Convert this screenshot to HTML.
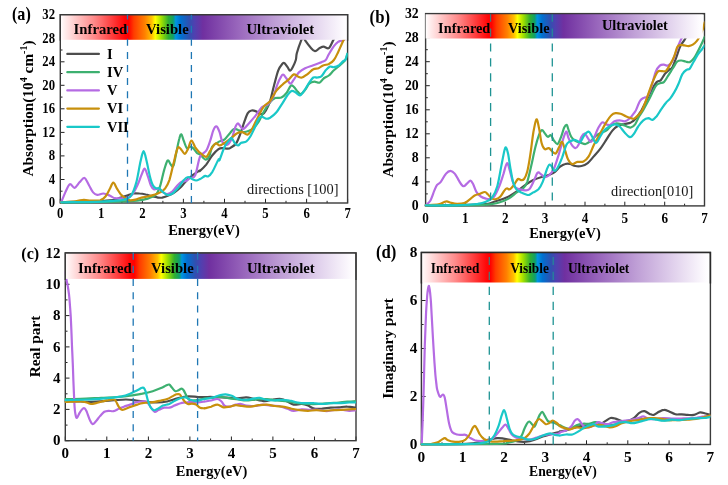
<!DOCTYPE html>
<html><head><meta charset="utf-8"><title>Optical properties</title>
<style>
html,body{margin:0;padding:0;background:#fff}
svg{display:block}
text{font-family:"Liberation Serif","DejaVu Serif",serif;fill:#000}
.b{font-weight:bold}
.tk{font-weight:bold;font-size:15.3px}
.ax{font-weight:bold;font-size:14.5px}
.lb{font-weight:bold;font-size:15.5px}
.sp{font-weight:bold;font-size:14.7px}
.lg{font-weight:bold;font-size:14.5px}
.an{font-size:14.4px;fill:#161616}
.cv{fill:none;stroke-width:2.2;stroke-linejoin:round;stroke-linecap:round}
.fr{fill:none;stroke:#3a3a3a;stroke-width:1.4}
.t{stroke:#222;stroke-width:1}
</style></head><body>
<svg width="728" height="485" viewBox="0 0 728 485">
<rect width="728" height="485" fill="#fff"/>
<defs>
<linearGradient id="ga" x1="0" y1="0" x2="1" y2="0">
<stop offset="0.00%" stop-color="#ffffff"/>
<stop offset="1.17%" stop-color="#fff2f2"/>
<stop offset="11.70%" stop-color="#ff8a8a"/>
<stop offset="22.35%" stop-color="#ff0808"/>
<stop offset="23.74%" stop-color="#ff0000"/>
<stop offset="25.61%" stop-color="#ff3c00"/>
<stop offset="29.40%" stop-color="#ff8000"/>
<stop offset="31.84%" stop-color="#ffc000"/>
<stop offset="33.07%" stop-color="#ffff00"/>
<stop offset="35.18%" stop-color="#a0e000"/>
<stop offset="37.62%" stop-color="#30b030"/>
<stop offset="39.29%" stop-color="#10a068"/>
<stop offset="40.18%" stop-color="#0094e0"/>
<stop offset="41.96%" stop-color="#0070d0"/>
<stop offset="44.85%" stop-color="#3050b0"/>
<stop offset="46.74%" stop-color="#5040b0"/>
<stop offset="49.64%" stop-color="#7030a0"/>
<stop offset="62.23%" stop-color="#9a68bd"/>
<stop offset="74.82%" stop-color="#bf9fd6"/>
<stop offset="87.41%" stop-color="#e0d0ec"/>
<stop offset="98.61%" stop-color="#fdfbfe"/>
<stop offset="100.00%" stop-color="#ffffff"/>
</linearGradient>
<clipPath id="ka"><rect x="60.3" y="14.7" width="287.3" height="25.1"/></clipPath>
<clipPath id="ca"><rect x="59.3" y="14.7" width="288.3" height="189.5"/></clipPath>
<linearGradient id="gb" x1="0" y1="0" x2="1" y2="0">
<stop offset="0.00%" stop-color="#ffffff"/>
<stop offset="1.17%" stop-color="#fff2f2"/>
<stop offset="11.72%" stop-color="#ff8a8a"/>
<stop offset="22.37%" stop-color="#ff0808"/>
<stop offset="23.81%" stop-color="#ff0000"/>
<stop offset="25.67%" stop-color="#ff3c00"/>
<stop offset="29.46%" stop-color="#ff8000"/>
<stop offset="31.91%" stop-color="#ffc000"/>
<stop offset="33.13%" stop-color="#ffff00"/>
<stop offset="35.25%" stop-color="#a0e000"/>
<stop offset="37.69%" stop-color="#30b030"/>
<stop offset="39.36%" stop-color="#10a068"/>
<stop offset="40.25%" stop-color="#0094e0"/>
<stop offset="42.03%" stop-color="#0070d0"/>
<stop offset="44.93%" stop-color="#3050b0"/>
<stop offset="46.82%" stop-color="#5040b0"/>
<stop offset="49.71%" stop-color="#7030a0"/>
<stop offset="62.29%" stop-color="#9a68bd"/>
<stop offset="74.86%" stop-color="#bf9fd6"/>
<stop offset="87.43%" stop-color="#e0d0ec"/>
<stop offset="98.56%" stop-color="#fdfbfe"/>
<stop offset="100.00%" stop-color="#ffffff"/>
</linearGradient>
<clipPath id="kb"><rect x="425.6" y="13.7" width="277.2" height="24.8"/></clipPath>
<clipPath id="cb"><rect x="424.6" y="13.6" width="279.9" height="193.5"/></clipPath>
<linearGradient id="gc" x1="0" y1="0" x2="1" y2="0">
<stop offset="0.00%" stop-color="#ffffff"/>
<stop offset="1.17%" stop-color="#fff2f2"/>
<stop offset="11.73%" stop-color="#ff8a8a"/>
<stop offset="22.42%" stop-color="#ff0808"/>
<stop offset="23.80%" stop-color="#ff0000"/>
<stop offset="25.68%" stop-color="#ff3c00"/>
<stop offset="29.46%" stop-color="#ff8000"/>
<stop offset="31.91%" stop-color="#ffc000"/>
<stop offset="33.13%" stop-color="#ffff00"/>
<stop offset="35.24%" stop-color="#a0e000"/>
<stop offset="37.69%" stop-color="#30b030"/>
<stop offset="39.36%" stop-color="#10a068"/>
<stop offset="40.25%" stop-color="#0094e0"/>
<stop offset="42.03%" stop-color="#0070d0"/>
<stop offset="44.92%" stop-color="#3050b0"/>
<stop offset="46.81%" stop-color="#5040b0"/>
<stop offset="49.70%" stop-color="#7030a0"/>
<stop offset="62.28%" stop-color="#9a68bd"/>
<stop offset="74.85%" stop-color="#bf9fd6"/>
<stop offset="87.43%" stop-color="#e0d0ec"/>
<stop offset="98.62%" stop-color="#fdfbfe"/>
<stop offset="100.00%" stop-color="#ffffff"/>
</linearGradient>
<clipPath id="kc"><rect x="65.3" y="253.0" width="289.5" height="25.9"/></clipPath>
<clipPath id="cc"><rect x="64.3" y="253.0" width="291.7" height="188.9"/></clipPath>
<linearGradient id="gd" x1="0" y1="0" x2="1" y2="0">
<stop offset="0.00%" stop-color="#ffffff"/>
<stop offset="1.18%" stop-color="#fff2f2"/>
<stop offset="11.80%" stop-color="#ff8a8a"/>
<stop offset="22.57%" stop-color="#ff0808"/>
<stop offset="23.96%" stop-color="#ff0000"/>
<stop offset="25.83%" stop-color="#ff3c00"/>
<stop offset="29.61%" stop-color="#ff8000"/>
<stop offset="32.05%" stop-color="#ffc000"/>
<stop offset="33.27%" stop-color="#ffff00"/>
<stop offset="35.38%" stop-color="#a0e000"/>
<stop offset="37.83%" stop-color="#30b030"/>
<stop offset="39.50%" stop-color="#10a068"/>
<stop offset="40.38%" stop-color="#0094e0"/>
<stop offset="42.16%" stop-color="#0070d0"/>
<stop offset="45.05%" stop-color="#3050b0"/>
<stop offset="46.94%" stop-color="#5040b0"/>
<stop offset="49.83%" stop-color="#7030a0"/>
<stop offset="62.37%" stop-color="#9a68bd"/>
<stop offset="74.91%" stop-color="#bf9fd6"/>
<stop offset="87.46%" stop-color="#e0d0ec"/>
<stop offset="98.61%" stop-color="#fdfbfe"/>
<stop offset="100.00%" stop-color="#ffffff"/>
</linearGradient>
<clipPath id="kd"><rect x="421.4" y="252.5" width="287.6" height="30.0"/></clipPath>
<clipPath id="cd"><rect x="420.4" y="252.5" width="290.0" height="193.2"/></clipPath>
</defs>
<g id="plot-a">
<path class="t" d="M60.3 203.0v-4.2M80.8 203.0v-2.2M101.3 203.0v-4.2M121.9 203.0v-2.2M142.4 203.0v-4.2M162.9 203.0v-2.2M183.4 203.0v-4.2M203.9 203.0v-2.2M224.5 203.0v-4.2M245.0 203.0v-2.2M265.5 203.0v-4.2M286.0 203.0v-2.2M306.6 203.0v-4.2M327.1 203.0v-2.2M347.6 203.0v-4.2M60.3 203.0h4.2M60.3 191.2h2.2M60.3 179.5h4.2M60.3 167.7h2.2M60.3 155.9h4.2M60.3 144.2h2.2M60.3 132.4h4.2M60.3 120.6h2.2M60.3 108.8h4.2M60.3 97.1h2.2M60.3 85.3h4.2M60.3 73.5h2.2M60.3 61.8h4.2M60.3 50.0h2.2M60.3 38.2h4.2M60.3 26.5h2.2M60.3 14.7h4.2" fill="none"/>
<rect class="fr" x="60.3" y="14.7" width="287.3" height="188.3"/>
<g clip-path="url(#ca)">
<path class="cv" stroke="#4d4d4d" d="M61.2 202.3C68.7 202.0 96.6 201.5 106.5 200.7C116.5 199.9 117.5 198.4 120.9 197.6C124.4 196.7 125.1 196.2 127.1 195.5C129.2 194.8 131.2 193.8 133.3 193.5C135.4 193.1 137.4 193.3 139.5 193.5C141.5 193.6 143.6 194.0 145.7 194.5C147.7 194.9 149.8 195.6 151.8 196.1C153.9 196.6 156.3 197.3 158.0 197.6C159.7 197.8 160.4 197.9 162.2 197.6C163.9 197.2 166.3 196.4 168.3 195.5C170.4 194.7 172.5 193.8 174.5 192.4C176.6 191.0 178.6 189.3 180.7 187.3C182.8 185.2 184.8 182.1 186.9 180.1C188.9 178.0 191.0 176.5 193.1 174.9C195.1 173.4 198.1 171.5 199.2 170.8C200.4 170.1 198.8 171.8 200.0 170.8C201.2 169.8 204.1 167.2 206.2 164.6C208.2 162.0 210.3 157.9 212.4 155.3C214.4 152.8 216.8 150.4 218.5 149.2C220.3 147.9 221.1 148.2 222.7 148.1C224.2 148.1 226.4 148.8 227.8 148.7C229.2 148.6 229.5 148.5 230.9 147.6C232.3 146.7 234.5 145.7 236.1 143.5C237.6 141.2 238.8 137.8 240.2 134.2C241.6 130.6 243.0 125.3 244.3 121.8C245.6 118.3 246.6 115.1 247.8 113.2C249.0 111.3 250.2 110.8 251.5 110.5C252.8 110.1 254.3 110.6 255.6 111.1C257.0 111.6 258.6 113.1 259.8 113.6C261.0 114.1 261.8 114.5 262.8 114.0C263.9 113.5 264.7 112.6 265.9 110.5C267.1 108.4 268.7 105.5 270.1 101.2C271.4 96.9 272.8 89.9 274.2 84.7C275.6 79.6 276.9 73.8 278.3 70.3C279.7 66.8 281.4 64.9 282.4 63.7C283.5 62.5 283.6 62.5 284.5 63.1C285.3 63.7 286.6 65.9 287.6 67.2C288.5 68.5 289.2 70.7 290.0 70.7C290.9 70.7 291.8 69.0 292.7 67.2C293.7 65.4 295.1 62.3 295.8 60.0C296.5 57.7 296.0 56.5 296.8 53.3C297.7 50.1 299.9 43.7 301.0 40.9C302.0 38.2 302.3 36.8 303.0 36.8C303.8 36.8 304.3 39.2 305.5 40.9C306.7 42.6 308.7 45.4 310.2 47.1C311.8 48.8 313.4 51.0 315.0 51.2C316.5 51.4 318.1 48.9 319.5 48.1C321.0 47.4 322.1 46.7 323.6 46.7C325.2 46.7 327.2 49.1 328.8 48.1C330.3 47.2 331.7 43.1 332.9 40.9C334.1 38.7 334.8 36.8 336.0 34.7C337.2 32.7 338.2 30.6 340.1 28.5C342.0 26.5 346.1 23.4 347.3 22.4"/>
<path class="cv" stroke="#3db070" d="M61.2 202.3C70.5 202.2 104.1 202.0 116.8 201.7C129.5 201.4 132.3 201.2 137.4 200.7C142.6 200.2 144.6 199.6 147.7 198.6C150.8 197.6 153.9 196.5 156.0 194.5C158.0 192.4 158.7 190.4 160.1 186.2C161.5 182.1 162.9 174.0 164.2 169.8C165.5 165.5 166.6 161.3 167.7 160.5C168.8 159.6 169.8 163.7 170.8 164.6C171.8 165.5 172.5 167.9 173.5 165.6C174.4 163.4 175.6 155.7 176.6 151.2C177.5 146.7 178.5 141.7 179.3 138.8C180.0 136.0 180.6 134.0 181.3 134.3C182.1 134.7 182.9 138.6 183.8 140.9C184.7 143.2 185.8 147.2 186.9 148.1C187.9 149.1 188.9 146.7 190.0 146.7C191.0 146.7 191.9 147.0 193.1 148.1C194.3 149.2 196.0 152.2 197.2 153.3C198.3 154.3 198.7 153.3 200.0 154.3C201.3 155.3 203.6 159.1 205.2 159.5C206.7 159.8 208.1 158.5 209.3 156.4C210.5 154.2 210.6 149.0 212.4 146.5C214.1 144.0 217.5 142.6 219.6 141.4C221.6 140.2 223.0 140.7 224.7 139.3C226.4 138.0 228.3 134.9 229.9 133.2C231.4 131.4 232.6 129.5 234.0 129.0C235.4 128.5 236.6 129.5 238.1 130.1C239.7 130.6 241.6 131.9 243.3 132.1C245.0 132.3 246.7 131.8 248.4 131.1C250.1 130.4 251.9 129.5 253.6 128.0C255.3 126.5 257.0 124.6 258.7 121.8C260.4 119.1 262.0 114.8 263.9 111.5C265.8 108.3 268.2 104.5 270.1 102.2C271.9 100.0 273.3 98.9 275.2 98.1C277.1 97.3 279.5 98.4 281.4 97.5C283.3 96.6 285.0 94.9 286.5 93.0C288.1 91.0 289.5 86.8 290.7 85.8C291.9 84.7 292.6 85.8 293.8 86.8C295.0 87.8 296.7 90.7 297.9 91.9C299.1 93.1 299.8 94.3 301.0 94.0C302.2 93.7 303.7 91.6 305.1 89.9C306.5 88.2 307.7 85.1 309.2 83.7C310.8 82.3 312.6 81.8 314.4 81.6C316.1 81.5 318.0 83.2 319.5 82.7C321.1 82.2 322.1 79.7 323.6 78.5C325.2 77.3 327.1 76.8 328.8 75.5C330.5 74.1 332.0 72.0 333.9 70.3C335.8 68.6 338.2 66.9 340.1 65.2C342.0 63.4 344.1 61.8 345.3 60.0C346.5 58.2 347.0 55.3 347.3 54.3"/>
<path class="cv" stroke="#b56be3" d="M61.2 202.3C61.9 200.7 63.9 195.4 65.3 192.4C66.7 189.4 68.3 184.9 69.8 184.2C71.4 183.4 72.9 188.2 74.6 187.9C76.2 187.5 78.1 183.8 79.7 182.1C81.4 180.5 82.9 177.5 84.5 178.0C86.0 178.5 87.6 182.8 89.0 185.2C90.4 187.6 91.7 190.8 93.1 192.4C94.5 194.0 95.5 194.7 97.2 194.9C99.0 195.1 101.4 193.4 103.4 193.5C105.5 193.6 107.7 194.7 109.6 195.5C111.5 196.3 112.5 197.7 114.8 198.2C117.0 198.6 120.8 198.3 123.0 198.2C125.2 198.1 126.6 198.2 128.2 197.6C129.7 197.0 130.7 196.5 132.3 194.5C133.8 192.4 135.9 188.5 137.4 185.2C139.0 181.9 140.3 177.7 141.5 174.9C142.7 172.2 143.6 168.6 144.6 168.7C145.7 168.9 146.7 173.2 147.7 175.9C148.8 178.7 149.8 183.0 150.8 185.2C151.8 187.4 152.5 188.7 153.9 189.3C155.3 189.9 157.5 188.2 159.1 188.7C160.6 189.2 161.8 191.5 163.2 192.4C164.6 193.3 165.8 194.2 167.3 194.1C168.8 193.9 170.7 192.9 172.5 191.4C174.2 189.9 176.1 186.8 177.6 185.2C179.2 183.6 180.4 182.4 181.7 181.7C183.1 181.0 184.5 181.7 185.8 181.1C187.2 180.5 188.4 178.9 190.0 178.0C191.5 177.1 193.4 179.1 195.1 175.5C196.8 172.0 198.2 161.0 200.0 156.8C201.8 152.7 204.5 153.4 206.2 150.7C207.9 147.9 209.1 143.8 210.3 140.4C211.5 136.9 212.4 132.4 213.4 130.1C214.4 127.7 215.5 126.0 216.5 126.4C217.5 126.7 218.5 129.4 219.6 132.1C220.6 134.8 221.3 140.4 222.7 142.4C224.0 144.5 226.3 145.2 227.8 144.5C229.4 143.8 230.7 141.0 231.9 138.3C233.1 135.6 234.1 130.5 235.0 128.0C236.0 125.5 236.9 123.8 237.7 123.5C238.6 123.1 239.3 125.0 240.2 125.9C241.1 126.9 241.9 129.4 243.3 129.0C244.6 128.7 246.4 126.1 248.4 123.9C250.5 121.6 253.4 118.4 255.6 115.6C257.9 112.9 259.8 109.3 261.8 107.4C263.9 105.5 266.1 106.0 268.0 104.3C269.9 102.6 271.6 100.4 273.2 97.1C274.7 93.8 275.9 88.2 277.3 84.7C278.6 81.2 280.4 77.7 281.4 76.1C282.4 74.4 282.6 74.4 283.5 74.8C284.3 75.2 285.4 77.1 286.5 78.5C287.7 80.0 289.1 83.5 290.3 83.7C291.5 83.9 292.3 81.5 293.8 79.6C295.2 77.7 297.0 74.3 298.9 72.4C300.8 70.5 302.7 69.4 305.1 68.2C307.5 67.0 310.6 66.2 313.3 65.2C316.1 64.1 319.5 62.9 321.6 62.1C323.6 61.2 324.5 61.3 325.7 60.0C326.9 58.7 327.4 56.6 328.8 54.3C330.2 52.0 332.4 48.1 333.9 46.1C335.5 44.0 336.7 42.9 338.1 41.9C339.4 41.0 341.0 41.0 342.2 40.5C343.4 40.0 344.4 40.5 345.3 38.8C346.1 37.2 347.0 32.0 347.3 30.6"/>
<path class="cv" stroke="#c8900c" d="M61.2 202.3C63.6 202.1 71.8 201.7 75.6 201.3C79.4 200.9 81.3 199.9 83.8 199.8C86.4 199.7 88.3 200.6 91.1 200.7C93.8 200.7 97.9 200.9 100.3 200.3C102.7 199.6 103.9 198.4 105.5 196.5C107.0 194.7 108.3 191.6 109.6 189.3C110.9 187.0 112.1 182.9 113.3 182.7C114.5 182.6 115.5 186.3 116.8 188.3C118.1 190.3 119.4 192.8 120.9 194.5C122.5 196.2 124.5 197.6 126.1 198.6C127.6 199.6 128.7 200.1 130.2 200.3C131.8 200.4 133.5 200.1 135.4 199.6C137.3 199.2 139.5 198.1 141.5 197.6C143.6 197.1 145.7 197.0 147.7 196.5C149.8 196.1 151.8 195.6 153.9 194.9C156.0 194.2 158.2 193.5 160.1 192.4C162.0 191.3 163.7 190.4 165.2 188.3C166.8 186.2 168.0 184.2 169.4 180.1C170.7 175.9 172.3 168.4 173.5 163.6C174.7 158.8 175.7 154.0 176.6 151.2C177.4 148.5 177.8 147.3 178.6 147.1C179.5 146.9 180.7 149.0 181.7 150.2C182.8 151.3 183.8 154.1 184.8 153.9C185.8 153.7 186.8 151.4 187.9 149.2C189.0 146.9 190.2 140.8 191.4 140.5C192.6 140.2 193.8 145.1 195.1 147.1C196.4 149.0 198.4 151.3 199.2 152.2C200.1 153.2 198.8 152.0 200.0 152.7C201.2 153.5 204.5 157.2 206.2 156.8C207.9 156.5 208.8 152.9 210.3 150.7C211.8 148.4 213.9 144.3 215.5 143.5C217.0 142.6 218.2 145.5 219.6 145.5C220.9 145.5 221.8 144.7 223.7 143.5C225.6 142.3 228.7 140.0 230.9 138.3C233.1 136.6 235.2 134.2 237.1 133.2C239.0 132.1 240.5 131.9 242.2 132.1C244.0 132.4 245.8 134.9 247.4 134.6C248.9 134.2 249.8 132.9 251.5 130.1C253.2 127.2 255.6 121.6 257.7 117.7C259.8 113.7 261.8 109.1 263.9 106.4C265.9 103.6 268.0 103.8 270.1 101.2C272.1 98.6 274.2 93.7 276.2 90.9C278.3 88.2 280.4 86.6 282.4 84.7C284.5 82.8 286.7 81.3 288.6 79.6C290.5 77.9 292.2 74.9 293.8 74.4C295.3 73.9 296.5 76.0 297.9 76.5C299.3 77.0 300.5 77.9 302.0 77.5C303.5 77.2 305.3 75.8 307.2 74.4C309.0 73.1 311.4 70.3 313.3 69.3C315.2 68.2 316.8 68.9 318.5 68.2C320.2 67.6 321.9 65.8 323.6 65.2C325.4 64.5 327.1 65.0 328.8 64.1C330.5 63.3 332.4 62.0 333.9 60.0C335.5 58.0 336.7 55.1 338.1 52.2C339.4 49.4 341.0 45.5 342.2 43.0C343.4 40.4 344.4 38.5 345.3 36.8C346.1 35.1 347.0 33.4 347.3 32.7"/>
<path class="cv" stroke="#19c8c8" d="M61.2 202.3C67.0 202.2 86.9 202.2 96.2 201.9C105.5 201.6 111.8 201.1 116.8 200.7C121.8 200.2 123.7 199.9 126.1 199.0C128.5 198.2 129.5 198.3 131.2 195.5C133.0 192.7 134.8 187.8 136.4 182.1C137.9 176.5 139.3 166.7 140.5 161.5C141.7 156.4 142.6 151.2 143.6 151.2C144.6 151.2 145.7 157.4 146.7 161.5C147.7 165.6 148.8 172.0 149.8 175.9C150.8 179.9 151.8 183.2 152.9 185.2C153.9 187.3 154.9 187.8 156.0 188.3C157.0 188.8 158.0 187.8 159.1 188.3C160.1 188.8 160.8 190.3 162.2 191.4C163.5 192.5 165.6 194.6 167.3 194.9C169.0 195.2 170.6 194.7 172.5 193.5C174.3 192.2 176.7 189.5 178.6 187.3C180.5 185.0 182.2 181.8 183.8 180.1C185.3 178.3 186.5 177.1 187.9 177.0C189.3 176.8 190.7 178.4 192.0 179.0C193.4 179.6 194.8 180.5 196.1 180.5C197.5 180.5 198.5 179.8 200.0 179.0C201.5 178.3 203.8 176.4 205.2 175.9C206.5 175.5 207.0 177.0 208.2 176.4C209.4 175.7 210.6 174.6 212.4 171.8C214.1 169.0 217.3 161.4 218.5 159.5C219.7 157.5 218.5 162.1 219.6 159.9C220.6 157.8 223.0 150.0 224.7 146.5C226.4 143.1 228.7 140.7 229.9 139.3C231.1 138.0 231.1 137.6 231.9 138.3C232.8 139.0 234.0 142.3 235.0 143.5C236.1 144.7 237.1 145.6 238.1 145.5C239.2 145.4 239.8 143.5 241.2 142.8C242.6 142.1 244.8 142.5 246.4 141.4C247.9 140.3 249.1 138.5 250.5 136.2C251.9 134.0 253.2 130.9 254.6 128.0C256.0 125.1 257.5 120.6 258.7 118.7C259.9 116.8 260.6 116.7 261.8 116.7C263.0 116.7 264.6 118.6 265.9 118.7C267.3 118.9 268.3 118.7 270.1 117.7C271.8 116.7 274.2 114.9 276.2 112.5C278.3 110.1 280.5 106.2 282.4 103.3C284.3 100.4 286.0 97.1 287.6 95.0C289.1 93.0 290.3 91.3 291.7 90.9C293.1 90.5 294.4 91.8 295.8 92.6C297.2 93.3 298.6 95.7 299.9 95.4C301.3 95.2 302.5 93.0 304.1 90.9C305.6 88.8 307.7 84.9 309.2 82.7C310.8 80.4 312.0 78.4 313.3 77.5C314.7 76.7 316.1 77.8 317.5 77.5C318.8 77.3 320.2 77.3 321.6 76.1C322.9 74.9 324.3 71.9 325.7 70.3C327.1 68.7 328.4 67.1 329.8 66.6C331.2 66.1 332.4 67.5 333.9 67.2C335.5 67.0 337.5 66.2 339.1 65.2C340.6 64.1 342.2 61.9 343.2 61.0C344.2 60.2 344.6 61.2 345.3 60.0C346.0 58.8 347.0 54.7 347.3 53.7"/>
</g>
<rect x="60.3" y="14.7" width="287.3" height="25.1" fill="url(#ga)"/>
<path class="fr" d="M60.3 40.8V14.7H347.6V40.8"/>
<path d="M127.5 203.0V14.7M191.4 203.0V14.7" stroke="#1f77b4" stroke-width="1.3" stroke-dasharray="7 6.1" fill="none"/>
<text class="sp" transform="translate(73.6 33.8) scale(1.000 1)">Infrared</text>
<text class="sp" transform="translate(146.0 33.8) scale(1.000 1)">Visible</text>
<text class="sp" transform="translate(246.5 33.8) scale(1.000 1)">Ultraviolet</text>
<text class="tk" style="font-size:14.6px" text-anchor="middle" transform="translate(60.3 217.9) scale(0.870 1)">0</text>
<text class="tk" style="font-size:14.6px" text-anchor="middle" transform="translate(101.3 217.9) scale(0.870 1)">1</text>
<text class="tk" style="font-size:14.6px" text-anchor="middle" transform="translate(142.4 217.9) scale(0.870 1)">2</text>
<text class="tk" style="font-size:14.6px" text-anchor="middle" transform="translate(183.4 217.9) scale(0.870 1)">3</text>
<text class="tk" style="font-size:14.6px" text-anchor="middle" transform="translate(224.5 217.9) scale(0.870 1)">4</text>
<text class="tk" style="font-size:14.6px" text-anchor="middle" transform="translate(265.5 217.9) scale(0.870 1)">5</text>
<text class="tk" style="font-size:14.6px" text-anchor="middle" transform="translate(306.6 217.9) scale(0.870 1)">6</text>
<text class="tk" style="font-size:14.6px" text-anchor="middle" transform="translate(347.6 217.9) scale(0.870 1)">7</text>
<text class="tk" style="font-size:14.6px" text-anchor="end" transform="translate(55.0 207.3) scale(0.870 1)">0</text>
<text class="tk" style="font-size:14.6px" text-anchor="end" transform="translate(55.0 183.8) scale(0.870 1)">4</text>
<text class="tk" style="font-size:14.6px" text-anchor="end" transform="translate(55.0 160.2) scale(0.870 1)">8</text>
<text class="tk" style="font-size:14.6px" text-anchor="end" transform="translate(55.0 136.7) scale(0.870 1)">12</text>
<text class="tk" style="font-size:14.6px" text-anchor="end" transform="translate(55.0 113.1) scale(0.870 1)">16</text>
<text class="tk" style="font-size:14.6px" text-anchor="end" transform="translate(55.0 89.6) scale(0.870 1)">20</text>
<text class="tk" style="font-size:14.6px" text-anchor="end" transform="translate(55.0 66.1) scale(0.870 1)">24</text>
<text class="tk" style="font-size:14.6px" text-anchor="end" transform="translate(55.0 42.5) scale(0.870 1)">28</text>
<text class="tk" style="font-size:14.6px" text-anchor="end" transform="translate(55.0 19.0) scale(0.870 1)">32</text>
<text class="lb" style="font-size:18.3px" transform="translate(12.0 19.9) scale(0.880 1)">(a)</text>
<text class="ax" style="font-size:14.5px" text-anchor="middle" x="204.0" y="235.4">Energy(eV)</text>
<text class="ax" style="font-size:15.3px" text-anchor="middle" transform="translate(33.0 108.5) rotate(-90)">Absorption(10<tspan font-size="10" dy="-6">4</tspan><tspan dy="6"> cm</tspan><tspan font-size="10" dy="-6">-1</tspan><tspan dy="6">)</tspan></text>
</g>
<g id="plot-b">
<path class="t" d="M425.6 205.9v-4.2M445.5 205.9v-2.2M465.4 205.9v-4.2M485.4 205.9v-2.2M505.3 205.9v-4.2M525.2 205.9v-2.2M545.1 205.9v-4.2M565.0 205.9v-2.2M585.0 205.9v-4.2M604.9 205.9v-2.2M624.8 205.9v-4.2M644.7 205.9v-2.2M664.7 205.9v-4.2M684.6 205.9v-2.2M704.5 205.9v-4.2M425.6 205.9h4.2M425.6 193.9h2.2M425.6 181.9h4.2M425.6 169.8h2.2M425.6 157.8h4.2M425.6 145.8h2.2M425.6 133.8h4.2M425.6 121.8h2.2M425.6 109.8h4.2M425.6 97.7h2.2M425.6 85.7h4.2M425.6 73.7h2.2M425.6 61.7h4.2M425.6 49.7h2.2M425.6 37.6h4.2M425.6 25.6h2.2M425.6 13.6h4.2" fill="none"/>
<rect class="fr" x="425.6" y="13.6" width="278.9" height="192.3"/>
<g clip-path="url(#cb)">
<path class="cv" stroke="#4d4d4d" d="M425.6 205.4C434.9 205.2 470.4 205.0 481.8 204.4C493.3 203.8 490.1 202.8 494.2 201.7C498.3 200.6 502.8 199.3 506.5 197.6C510.3 195.9 513.8 193.5 516.8 191.4C519.9 189.3 522.3 187.1 525.1 185.2C527.8 183.3 530.6 181.4 533.3 180.1C536.1 178.7 539.0 177.8 541.6 177.0C544.2 176.1 546.6 175.8 548.8 174.9C551.0 174.0 553.1 173.2 555.0 171.8C556.9 170.4 558.4 168.0 560.1 166.7C561.8 165.4 563.6 164.4 565.3 164.0C566.9 163.5 568.5 163.6 570.2 164.0C571.8 164.3 573.4 165.7 575.3 166.0C577.2 166.4 579.4 166.5 581.5 166.0C583.5 165.6 585.6 164.8 587.7 163.2C589.7 161.5 591.8 158.7 593.8 156.4C595.9 154.0 598.0 151.9 600.0 149.2C602.1 146.4 604.2 143.0 606.2 139.9C608.3 136.8 610.3 133.0 612.4 130.6C614.5 128.2 616.5 126.6 618.6 125.5C620.6 124.4 622.7 124.5 624.8 124.0C626.8 123.5 629.0 123.3 630.9 122.4C632.8 121.4 634.5 120.0 636.1 118.2C637.6 116.5 639.3 113.4 640.2 112.1C641.1 110.7 640.5 112.2 641.7 109.9C642.9 107.7 645.6 102.2 647.4 98.6C649.2 95.0 651.0 91.0 652.6 88.3C654.1 85.6 655.3 83.5 656.7 82.1C658.1 80.7 659.4 81.4 660.8 80.1C662.2 78.7 663.6 75.6 664.9 73.9C666.3 72.2 667.9 70.8 669.1 69.8C670.3 68.7 670.9 69.8 672.2 67.7C673.4 65.6 674.9 61.0 676.3 57.4C677.6 53.8 679.0 49.0 680.4 46.1C681.8 43.1 683.1 42.1 684.5 39.9C685.9 37.6 686.9 35.6 688.6 32.7C690.4 29.7 692.8 25.5 694.8 22.4C696.9 19.3 700.0 15.5 701.0 14.1"/>
<path class="cv" stroke="#3db070" d="M425.6 205.4C434.9 205.3 469.7 205.2 481.8 204.8C493.9 204.3 493.8 203.8 498.3 202.7C502.8 201.7 505.5 200.3 508.6 198.6C511.7 196.9 514.4 194.1 516.8 192.4C519.3 190.7 521.3 190.0 523.0 188.3C524.7 186.6 525.8 185.9 527.2 182.1C528.5 178.3 529.9 171.5 531.3 165.6C532.6 159.8 534.1 152.2 535.4 147.1C536.7 141.9 538.0 137.6 539.1 134.7C540.2 131.9 541.1 130.3 542.0 130.0C542.9 129.7 543.7 131.9 544.7 133.1C545.6 134.2 546.7 136.4 547.8 136.8C548.8 137.1 549.8 134.5 550.8 135.1C551.9 135.8 552.8 139.0 553.9 140.5C555.1 142.0 556.4 144.6 557.6 144.0C558.8 143.4 560.1 139.5 561.1 136.8C562.2 134.0 563.3 129.5 564.2 127.5C565.2 125.5 566.1 124.7 566.7 124.8C567.4 125.0 567.3 126.6 568.1 128.5C568.8 130.5 570.0 134.7 571.2 136.8C572.4 138.8 573.8 139.9 575.3 140.9C576.8 141.9 578.7 142.0 580.5 142.6C582.2 143.1 583.9 144.3 585.6 144.0C587.3 143.7 589.0 142.3 590.8 140.9C592.5 139.5 594.2 137.1 595.9 135.8C597.6 134.4 599.3 133.5 601.1 132.7C602.8 131.8 604.5 131.8 606.2 130.6C607.9 129.4 609.6 126.7 611.4 125.5C613.1 124.3 614.8 123.6 616.5 123.4C618.2 123.2 619.9 123.9 621.7 124.4C623.4 124.9 625.3 126.0 626.8 126.5C628.4 127.0 629.6 127.9 630.9 127.5C632.3 127.2 633.7 126.3 635.1 124.4C636.4 122.5 637.8 118.6 639.2 116.2C640.6 113.8 641.6 112.9 643.3 109.9C645.0 107.0 647.4 102.6 649.5 98.6C651.5 94.7 653.9 88.8 655.7 86.2C657.4 83.7 658.4 83.8 659.8 83.2C661.2 82.5 662.5 83.3 663.9 82.1C665.3 80.9 666.5 78.3 668.0 75.9C669.6 73.5 671.6 70.1 673.2 67.7C674.7 65.3 675.9 62.7 677.3 61.5C678.7 60.3 680.0 60.5 681.4 60.5C682.8 60.5 684.2 61.2 685.5 61.5C686.9 61.8 688.3 62.6 689.7 62.1C691.0 61.6 692.4 60.2 693.8 58.4C695.2 56.6 696.5 53.8 697.9 51.2C699.3 48.6 700.9 45.4 702.0 43.0C703.2 40.6 704.3 37.8 704.7 36.8"/>
<path class="cv" stroke="#b56be3" d="M425.6 205.4C426.4 204.6 428.8 203.2 430.3 200.7C431.8 198.2 433.3 192.9 434.4 190.4C435.5 187.8 435.9 186.6 436.9 185.2C437.9 183.8 439.1 184.0 440.6 182.1C442.1 180.2 444.1 175.8 445.8 173.9C447.4 172.0 449.0 170.8 450.5 170.8C452.0 170.8 453.6 172.2 455.0 173.9C456.5 175.6 457.8 179.0 459.2 181.1C460.5 183.2 461.9 185.9 463.3 186.2C464.6 186.6 466.2 184.1 467.4 183.2C468.6 182.2 469.5 180.5 470.5 180.7C471.4 180.8 472.1 182.2 473.2 184.2C474.2 186.1 475.4 190.4 476.7 192.4C477.9 194.5 479.2 195.5 480.8 196.5C482.3 197.6 484.4 198.2 485.9 198.6C487.5 199.0 488.7 199.4 490.1 199.0C491.4 198.7 492.6 198.7 494.2 196.5C495.7 194.4 497.8 190.0 499.3 186.2C500.9 182.5 502.2 177.7 503.5 173.9C504.7 170.0 505.9 163.8 507.0 163.2C508.0 162.5 508.7 166.9 509.6 169.8C510.5 172.6 511.4 177.1 512.3 180.1C513.2 183.0 513.9 185.7 515.2 187.3C516.5 188.8 518.3 188.8 519.9 189.3C521.6 189.8 523.5 190.4 525.1 190.4C526.6 190.4 527.8 190.7 529.2 189.3C530.6 188.0 532.0 184.9 533.3 182.1C534.7 179.4 536.3 174.2 537.5 172.8C538.7 171.5 539.3 173.2 540.5 173.9C541.7 174.6 543.3 176.7 544.7 177.0C546.0 177.2 547.2 176.9 548.8 175.5C550.3 174.2 552.2 172.4 553.9 168.7C555.7 165.0 557.5 158.3 559.1 153.3C560.6 148.3 562.0 142.5 563.2 138.8C564.4 135.2 565.5 132.0 566.3 131.6C567.1 131.3 567.3 134.7 568.1 136.8C568.9 138.8 570.0 142.1 571.2 144.0C572.4 145.9 574.1 147.9 575.3 148.1C576.5 148.3 577.4 146.9 578.4 145.0C579.4 143.1 580.5 138.7 581.5 136.8C582.5 134.9 583.5 133.5 584.6 133.7C585.6 133.9 586.6 136.4 587.7 137.8C588.7 139.2 589.7 141.9 590.8 141.9C591.8 141.9 592.6 140.1 593.8 137.8C595.1 135.6 596.6 131.1 598.0 128.5C599.3 126.0 600.7 123.1 602.1 122.4C603.5 121.7 604.8 124.0 606.2 124.4C607.6 124.8 609.0 125.4 610.3 124.8C611.7 124.3 612.9 122.1 614.5 121.3C616.0 120.6 617.9 120.3 619.6 120.3C621.3 120.3 623.0 121.7 624.8 121.3C626.5 121.0 628.4 119.6 629.9 118.2C631.5 116.9 633.0 114.5 634.0 113.1C635.1 111.7 635.1 112.0 636.1 109.9C637.1 107.9 638.8 102.7 640.2 100.7C641.6 98.6 643.1 98.3 644.3 97.6C645.5 96.9 646.2 98.4 647.4 96.5C648.6 94.7 650.2 90.4 651.5 86.2C652.9 82.1 654.3 75.3 655.7 71.8C657.0 68.4 658.4 66.8 659.8 65.6C661.2 64.4 662.5 64.6 663.9 64.6C665.3 64.6 666.7 66.2 668.0 65.6C669.4 65.1 670.8 63.9 672.2 61.5C673.5 59.1 675.1 54.3 676.3 51.2C677.5 48.1 678.5 45.0 679.4 43.0C680.2 40.9 680.4 40.9 681.4 38.8C682.5 36.8 684.0 33.4 685.5 30.6C687.1 27.9 688.8 25.1 690.7 22.4C692.6 19.6 695.8 15.5 696.9 14.1"/>
<path class="cv" stroke="#c8900c" d="M425.6 205.4C427.7 205.2 435.5 204.9 438.5 204.4C441.6 203.9 442.3 202.8 443.7 202.3C445.1 201.8 445.6 201.2 446.8 201.3C448.0 201.4 449.2 202.3 450.9 202.7C452.6 203.1 454.9 203.7 457.1 203.8C459.3 203.8 462.2 203.8 464.3 203.1C466.4 202.5 467.7 200.9 469.5 199.6C471.2 198.4 472.9 196.5 474.6 195.5C476.3 194.6 478.0 194.4 479.8 193.9C481.5 193.3 483.5 191.9 484.9 192.0C486.3 192.1 486.8 193.4 488.0 194.5C489.2 195.6 490.7 197.8 492.1 198.6C493.5 199.4 494.9 199.4 496.2 199.0C497.6 198.7 499.0 198.0 500.4 196.5C501.7 195.1 503.4 191.7 504.5 190.4C505.6 189.0 506.1 188.5 507.0 188.3C507.8 188.1 508.5 189.8 509.6 189.3C510.8 188.8 512.4 186.9 513.8 185.2C515.1 183.5 516.7 179.9 517.9 179.0C519.1 178.2 519.9 180.1 521.0 180.1C522.0 180.1 523.0 180.4 524.1 179.0C525.1 177.7 526.1 175.8 527.2 171.8C528.2 167.9 529.2 161.9 530.2 155.3C531.3 148.8 532.3 138.7 533.3 132.7C534.4 126.7 535.5 120.0 536.4 119.3C537.4 118.6 538.2 124.6 539.1 128.5C540.0 132.5 540.6 139.5 541.6 143.0C542.5 146.4 543.5 148.3 544.7 149.2C545.9 150.0 547.4 147.6 548.8 148.1C550.2 148.6 551.7 151.4 552.9 152.2C554.1 153.1 555.0 154.1 556.0 153.3C557.0 152.4 558.1 149.0 559.1 147.1C560.1 145.2 561.1 141.3 562.2 141.9C563.2 142.6 564.3 148.3 565.3 151.2C566.3 154.1 566.9 157.3 568.1 159.5C569.2 161.6 570.7 163.6 572.2 164.0C573.8 164.4 575.5 162.3 577.4 161.9C579.3 161.5 581.7 162.4 583.5 161.5C585.4 160.6 587.0 159.1 588.7 156.4C590.4 153.6 592.0 148.8 593.8 145.0C595.7 141.3 598.0 137.5 600.0 133.7C602.1 129.9 604.3 125.5 606.2 122.4C608.1 119.3 609.8 116.7 611.4 115.2C612.9 113.6 613.9 113.3 615.5 113.1C617.0 112.9 618.9 113.2 620.6 113.7C622.4 114.2 624.2 115.5 625.8 116.2C627.3 116.9 628.5 117.4 629.9 117.8C631.3 118.2 632.7 119.1 634.0 118.7C635.4 118.2 636.8 116.6 638.2 115.2C639.5 113.7 640.7 113.0 642.3 109.9C643.8 106.8 645.7 101.2 647.4 96.5C649.1 91.9 650.9 86.2 652.6 82.1C654.3 78.0 656.2 73.6 657.7 71.8C659.3 70.0 660.5 71.4 661.8 71.2C663.2 71.0 664.6 71.9 666.0 70.8C667.3 69.7 668.7 67.0 670.1 64.6C671.5 62.2 673.0 59.3 674.2 56.4C675.4 53.4 676.3 49.0 677.3 47.1C678.3 45.2 679.2 45.3 680.4 45.0C681.6 44.8 683.1 45.3 684.5 45.4C685.9 45.6 687.3 46.2 688.6 46.1C690.0 45.9 691.4 45.5 692.8 44.6C694.1 43.8 695.7 42.4 696.9 40.9C698.1 39.4 698.9 37.8 700.0 35.8C701.0 33.7 702.3 30.8 703.1 28.5C703.8 26.3 704.4 23.4 704.7 22.4"/>
<path class="cv" stroke="#19c8c8" d="M425.6 205.4C431.5 205.4 452.5 205.5 461.2 205.2C469.9 204.9 473.6 204.3 477.7 203.8C481.8 203.2 483.5 202.7 485.9 201.7C488.3 200.7 490.2 200.2 492.1 197.6C494.0 195.0 495.7 191.6 497.3 186.2C498.8 180.9 500.2 171.6 501.4 165.6C502.6 159.6 503.7 153.2 504.5 150.2C505.3 147.2 505.5 147.0 506.1 147.7C506.8 148.4 507.4 150.6 508.2 154.3C508.9 158.0 509.8 165.1 510.7 169.8C511.5 174.4 512.2 178.9 513.1 182.1C514.1 185.4 515.1 187.6 516.4 189.3C517.7 191.0 519.4 191.6 521.0 192.4C522.6 193.3 524.7 194.1 526.1 194.5C527.5 194.9 528.0 195.2 529.2 194.9C530.4 194.6 531.8 193.4 533.3 192.4C534.9 191.5 536.9 191.0 538.5 189.3C540.0 187.6 541.2 185.4 542.6 182.1C544.0 178.9 545.6 172.7 546.7 169.8C547.9 166.8 548.5 165.1 549.4 164.6C550.3 164.1 551.1 165.6 551.9 166.7C552.7 167.7 553.4 170.6 554.3 170.8C555.3 171.0 556.3 169.9 557.6 167.7C559.0 165.5 560.7 161.2 562.2 157.4C563.6 153.6 565.1 147.6 566.3 145.0C567.5 142.5 567.8 142.8 569.1 141.9C570.4 141.1 572.9 140.1 574.3 139.9C575.6 139.7 576.3 140.6 577.4 140.9C578.4 141.3 579.3 143.0 580.5 141.9C581.7 140.9 583.2 136.4 584.6 134.7C585.9 133.0 587.5 131.5 588.7 131.6C589.9 131.8 590.6 133.9 591.8 135.8C593.0 137.6 594.5 142.8 595.9 143.0C597.3 143.1 598.7 138.8 600.0 136.8C601.4 134.7 602.6 132.3 604.2 130.6C605.7 128.9 607.6 127.5 609.3 126.5C611.0 125.5 612.7 124.4 614.5 124.4C616.2 124.4 617.9 125.1 619.6 126.5C621.3 127.9 623.0 130.9 624.8 132.7C626.5 134.5 628.4 137.0 629.9 137.2C631.5 137.4 632.7 135.5 634.0 133.7C635.4 131.9 636.6 128.7 638.2 126.5C639.7 124.3 641.6 121.7 643.3 120.3C645.0 118.9 646.9 118.3 648.5 118.2C650.0 118.2 651.2 120.2 652.6 119.9C653.9 119.5 655.3 117.8 656.7 116.2C658.1 114.5 659.3 112.2 660.8 109.9C662.4 107.7 664.4 104.6 666.0 102.7C667.5 100.8 668.7 100.3 670.1 98.6C671.5 96.9 672.8 94.8 674.2 92.4C675.6 90.0 677.0 87.3 678.3 84.2C679.7 81.1 681.1 76.3 682.5 73.9C683.8 71.5 685.4 70.6 686.6 69.8C687.8 68.9 688.5 70.1 689.7 68.7C690.9 67.4 692.4 63.9 693.8 61.5C695.2 59.1 696.5 56.4 697.9 54.3C699.3 52.2 700.8 50.7 702.0 49.2C703.2 47.6 704.6 45.7 705.1 45.0"/>
</g>
<path d="M490.6 13.6V205.9M552.3 13.6V205.9" stroke="#1f9393" stroke-width="1.3" stroke-dasharray="8.2 6.7" fill="none"/>
<rect x="425.6" y="13.7" width="277.2" height="24.8" fill="url(#gb)"/>
<g clip-path="url(#kb)" opacity="0.8"><path d="M490.6 13.6V205.9M552.3 13.6V205.9" stroke="#1f9393" stroke-width="1.3" stroke-dasharray="8.2 6.7" fill="none"/></g>
<path class="fr" d="M425.1 13.6H705.0"/>
<text class="sp" transform="translate(438.1 33.3) scale(0.975 1)">Infrared</text>
<text class="sp" transform="translate(507.9 33.3) scale(0.975 1)">Visible</text>
<text class="sp" transform="translate(601.9 29.6) scale(0.975 1)">Ultraviolet</text>
<text class="tk" style="font-size:14.6px" text-anchor="middle" transform="translate(425.6 223.2) scale(0.900 1)">0</text>
<text class="tk" style="font-size:14.6px" text-anchor="middle" transform="translate(465.4 223.2) scale(0.900 1)">1</text>
<text class="tk" style="font-size:14.6px" text-anchor="middle" transform="translate(505.3 223.2) scale(0.900 1)">2</text>
<text class="tk" style="font-size:14.6px" text-anchor="middle" transform="translate(545.1 223.2) scale(0.900 1)">3</text>
<text class="tk" style="font-size:14.6px" text-anchor="middle" transform="translate(585.0 223.2) scale(0.900 1)">4</text>
<text class="tk" style="font-size:14.6px" text-anchor="middle" transform="translate(624.8 223.2) scale(0.900 1)">5</text>
<text class="tk" style="font-size:14.6px" text-anchor="middle" transform="translate(664.7 223.2) scale(0.900 1)">6</text>
<text class="tk" style="font-size:14.6px" text-anchor="middle" transform="translate(704.5 223.2) scale(0.900 1)">7</text>
<text class="tk" style="font-size:15.3px" text-anchor="end" transform="translate(418.7 210.4) scale(0.900 1)">0</text>
<text class="tk" style="font-size:15.3px" text-anchor="end" transform="translate(418.7 186.4) scale(0.900 1)">4</text>
<text class="tk" style="font-size:15.3px" text-anchor="end" transform="translate(418.7 162.3) scale(0.900 1)">8</text>
<text class="tk" style="font-size:15.3px" text-anchor="end" transform="translate(418.7 138.3) scale(0.900 1)">12</text>
<text class="tk" style="font-size:15.3px" text-anchor="end" transform="translate(418.7 114.2) scale(0.900 1)">16</text>
<text class="tk" style="font-size:15.3px" text-anchor="end" transform="translate(418.7 90.2) scale(0.900 1)">20</text>
<text class="tk" style="font-size:15.3px" text-anchor="end" transform="translate(418.7 66.2) scale(0.900 1)">24</text>
<text class="tk" style="font-size:15.3px" text-anchor="end" transform="translate(418.7 42.1) scale(0.900 1)">28</text>
<text class="tk" style="font-size:15.3px" text-anchor="end" transform="translate(418.7 18.1) scale(0.900 1)">32</text>
<text class="lb" style="font-size:18.3px" transform="translate(369.6 22.8) scale(0.915 1)">(b)</text>
<text class="ax" style="font-size:14.5px" text-anchor="middle" x="565.0" y="237.8">Energy(eV)</text>
<text class="ax" style="font-size:15.3px" text-anchor="middle" transform="translate(392.6 109.5) rotate(-90)">Absorption(10<tspan font-size="10" dy="-6">4</tspan><tspan dy="6"> cm</tspan><tspan font-size="10" dy="-6">-1</tspan><tspan dy="6">)</tspan></text>
</g>
<g id="plot-c">
<path class="t" d="M65.3 440.7v-4.2M86.1 440.7v-2.2M106.8 440.7v-4.2M127.6 440.7v-2.2M148.4 440.7v-4.2M169.1 440.7v-2.2M189.9 440.7v-4.2M210.6 440.7v-2.2M231.4 440.7v-4.2M252.2 440.7v-2.2M272.9 440.7v-4.2M293.7 440.7v-2.2M314.5 440.7v-4.2M335.2 440.7v-2.2M356.0 440.7v-4.2M65.3 440.7h4.2M65.3 425.1h2.2M65.3 409.4h4.2M65.3 393.8h2.2M65.3 378.1h4.2M65.3 362.5h2.2M65.3 346.9h4.2M65.3 331.2h2.2M65.3 315.6h4.2M65.3 299.9h2.2M65.3 284.3h4.2M65.3 268.6h2.2M65.3 253.0h4.2" fill="none"/>
<rect class="fr" x="65.3" y="253.0" width="290.7" height="187.7"/>
<g clip-path="url(#cc)">
<path class="cv" stroke="#4d4d4d" d="M65.6 401.1C68.1 401.2 76.4 401.4 80.6 401.5C84.8 401.7 85.8 402.1 90.9 401.9C96.1 401.8 105.7 400.9 111.5 400.5C117.4 400.1 121.8 399.5 125.9 399.5C130.1 399.5 132.8 400.1 136.2 400.5C139.7 400.9 143.1 401.6 146.5 401.9C150.0 402.3 153.4 402.6 156.8 402.5C160.3 402.5 163.7 402.2 167.2 401.5C170.6 400.8 174.0 399.3 177.5 398.4C180.9 397.6 184.3 396.6 187.8 396.4C191.2 396.1 195.2 396.9 198.1 397.0C200.9 397.1 202.5 397.0 205.0 397.0C207.5 397.0 210.5 396.9 213.2 397.0C216.0 397.0 218.7 397.3 221.5 397.4C224.2 397.5 227.0 397.6 229.7 397.8C232.5 398.0 235.2 398.5 238.0 398.4C240.7 398.4 243.5 397.3 246.2 397.4C249.0 397.5 251.4 398.4 254.5 399.0C257.5 399.7 261.7 401.0 264.8 401.1C267.8 401.2 270.3 399.8 273.0 399.5C275.7 399.1 278.8 398.7 281.2 399.0C283.6 399.4 285.4 400.6 287.4 401.5C289.5 402.4 291.2 404.2 293.6 404.6C296.0 405.0 299.4 403.8 301.8 404.0C304.3 404.2 306.0 404.8 308.0 405.6C310.1 406.4 311.8 408.2 314.2 408.7C316.6 409.2 319.7 408.9 322.5 408.7C325.2 408.6 327.9 407.9 330.7 407.7C333.4 407.5 336.2 407.5 338.9 407.3C341.7 407.1 344.3 406.6 347.2 406.7C350.0 406.7 354.6 407.5 356.0 407.7"/>
<path class="cv" stroke="#3db070" d="M65.6 399.0C68.1 399.0 74.7 399.0 80.6 398.8C86.5 398.6 95.0 398.1 101.2 397.8C107.4 397.5 112.9 397.3 117.7 397.0C122.5 396.6 125.9 396.3 130.1 395.7C134.2 395.2 138.6 394.4 142.4 393.7C146.2 392.9 149.6 392.1 152.7 391.2C155.8 390.3 158.7 389.1 161.0 388.1C163.2 387.2 164.7 386.0 166.1 385.4C167.5 384.9 168.2 384.2 169.2 384.6C170.2 385.1 171.3 387.0 172.3 388.1C173.3 389.2 174.4 390.9 175.4 391.2C176.4 391.6 177.5 390.6 178.5 390.2C179.5 389.8 180.7 388.7 181.6 388.7C182.4 388.7 182.9 389.3 183.6 390.2C184.3 391.1 185.0 392.9 185.7 394.3C186.4 395.7 186.9 397.4 187.8 398.4C188.6 399.5 189.5 400.2 190.8 400.5C192.2 400.8 194.1 400.3 196.0 400.1C197.9 399.8 200.7 399.3 202.2 399.0C203.7 398.8 203.2 398.6 205.0 398.4C206.8 398.2 210.5 398.0 213.2 397.8C216.0 397.6 218.7 396.9 221.5 397.0C224.2 397.1 227.0 398.0 229.7 398.4C232.5 398.8 235.2 399.1 238.0 399.5C240.7 399.8 243.1 400.5 246.2 400.5C249.3 400.5 253.1 399.7 256.5 399.5C259.9 399.2 263.4 398.9 266.8 399.0C270.3 399.2 273.7 400.1 277.1 400.5C280.6 400.9 284.0 401.1 287.4 401.5C290.9 402.0 294.3 402.8 297.7 403.2C301.2 403.6 304.6 403.8 308.0 404.0C311.5 404.1 314.9 404.1 318.3 404.0C321.8 403.8 325.2 403.4 328.6 403.2C332.1 402.9 335.5 402.8 338.9 402.5C342.4 402.3 346.4 401.8 349.2 401.5C352.1 401.3 354.9 401.2 356.0 401.1"/>
<path class="cv" stroke="#b56be3" d="M65.6 272.0C65.8 273.4 66.2 278.0 66.6 280.4C67.0 282.8 67.4 283.9 67.8 286.2C68.2 288.5 68.6 291.1 69.0 294.4C69.4 297.7 69.7 302.1 70.0 306.0C70.3 309.9 70.6 313.3 70.8 317.5C71.0 321.7 71.2 326.6 71.4 331.0C71.6 335.4 71.7 338.8 71.9 344.0C72.1 349.2 72.5 355.8 72.7 362.0C73.0 368.2 73.2 375.5 73.4 381.0C73.6 386.5 73.8 390.7 74.0 395.0C74.2 399.3 74.4 403.8 74.6 407.0C74.8 410.2 75.0 412.2 75.4 414.0C75.8 415.8 76.2 418.2 76.9 418.0C77.6 417.8 78.6 414.4 79.6 412.8C80.5 411.3 81.8 409.5 82.7 408.7C83.5 408.0 84.0 407.8 84.7 408.3C85.4 408.8 85.9 409.9 86.8 411.8C87.6 413.8 88.9 418.0 89.9 420.1C90.8 422.1 91.5 424.0 92.6 424.2C93.6 424.4 94.8 422.5 96.1 421.1C97.3 419.7 98.8 417.5 100.2 415.9C101.6 414.4 102.9 412.7 104.3 411.8C105.7 411.0 106.9 410.9 108.4 410.8C110.0 410.7 111.9 411.5 113.6 411.2C115.3 410.9 117.0 409.5 118.7 408.7C120.4 408.0 122.0 407.4 123.9 406.7C125.8 406.0 128.2 405.3 130.1 404.6C131.9 403.9 133.5 403.1 135.2 402.5C136.9 402.0 138.6 401.7 140.4 401.5C142.1 401.3 144.1 401.1 145.5 401.5C146.9 401.9 147.6 402.8 148.6 404.0C149.6 405.2 150.7 407.4 151.7 408.7C152.7 410.0 153.6 411.6 154.8 411.8C156.0 412.0 157.4 410.4 158.9 409.8C160.5 409.1 162.3 408.0 164.1 407.7C165.8 407.4 167.5 408.0 169.2 407.7C170.9 407.4 172.5 406.4 174.4 405.6C176.3 404.9 178.7 403.7 180.5 403.2C182.4 402.6 183.8 402.8 185.7 402.5C187.6 402.3 189.8 401.9 191.9 401.9C193.9 401.9 196.0 402.6 198.1 402.5C200.1 402.5 203.1 401.7 204.2 401.5C205.4 401.3 203.8 401.7 205.0 401.5C206.2 401.3 209.1 400.9 211.2 400.5C213.2 400.1 215.6 398.9 217.4 399.0C219.1 399.2 220.3 400.4 221.5 401.5C222.7 402.6 223.2 404.8 224.6 405.6C225.9 406.5 227.8 406.8 229.7 406.7C231.6 406.5 234.0 405.1 235.9 404.6C237.8 404.2 239.3 403.8 241.1 404.0C242.8 404.2 244.0 405.3 246.2 405.6C248.4 406.0 251.7 406.2 254.5 406.0C257.2 405.9 259.9 404.7 262.7 404.6C265.4 404.5 268.2 405.4 270.9 405.6C273.7 405.9 276.4 405.5 279.2 406.0C281.9 406.6 285.0 407.9 287.4 408.7C289.8 409.5 291.2 410.7 293.6 410.8C296.0 410.9 299.1 409.5 301.8 409.3C304.6 409.2 307.3 409.7 310.1 409.8C312.8 409.8 315.6 409.5 318.3 409.8C321.1 410.0 323.8 411.2 326.6 411.2C329.3 411.2 332.1 410.0 334.8 409.8C337.6 409.5 340.7 409.6 343.1 409.8C345.5 409.9 347.1 410.7 349.2 410.8C351.4 410.9 354.9 410.3 356.0 410.2"/>
<path class="cv" stroke="#c8900c" d="M65.6 401.9C68.1 401.9 77.1 401.4 80.6 401.5C84.1 401.6 85.1 402.1 86.8 402.5C88.5 403.0 89.4 403.9 90.9 404.0C92.5 404.1 94.2 403.6 96.1 403.2C97.9 402.8 100.2 402.0 102.2 401.5C104.3 401.0 106.5 400.4 108.4 400.1C110.4 399.7 112.7 399.2 114.0 399.5C115.3 399.7 115.3 400.3 116.0 401.5C116.8 402.7 117.8 405.3 118.7 406.7C119.7 408.0 120.6 409.4 121.8 409.8C123.0 410.1 124.4 409.2 125.9 408.7C127.5 408.2 129.2 407.4 131.1 406.7C133.0 406.0 135.4 405.2 137.3 404.6C139.2 404.0 140.5 403.5 142.4 403.2C144.3 402.8 146.5 402.8 148.6 402.5C150.7 402.3 152.7 402.3 154.8 401.9C156.8 401.6 158.9 401.0 161.0 400.5C163.0 400.0 165.3 399.7 167.2 399.0C169.0 398.4 170.8 397.2 172.3 396.4C173.8 395.6 175.2 394.6 176.4 394.3C177.6 394.0 178.7 393.9 179.5 394.3C180.4 394.7 180.7 395.8 181.6 397.0C182.4 398.2 183.6 400.3 184.7 401.5C185.7 402.7 186.6 403.6 187.8 404.0C189.0 404.3 190.5 403.5 191.9 403.6C193.3 403.7 194.6 403.9 196.0 404.6C197.4 405.3 198.7 407.1 200.1 407.7C201.5 408.3 203.4 408.2 204.2 408.3C205.1 408.4 203.8 408.6 205.0 408.3C206.2 408.0 209.1 407.3 211.2 406.7C213.2 406.0 215.3 404.5 217.4 404.6C219.4 404.7 221.5 406.9 223.5 407.3C225.6 407.6 227.7 407.0 229.7 406.7C231.8 406.3 233.8 405.3 235.9 405.2C238.0 405.1 239.7 405.8 242.1 406.0C244.5 406.3 247.6 406.8 250.3 406.7C253.1 406.5 255.8 405.6 258.6 405.2C261.3 404.9 264.1 404.5 266.8 404.6C269.6 404.7 272.3 405.7 275.1 406.0C277.8 406.4 280.6 406.2 283.3 406.7C286.0 407.1 288.8 408.1 291.5 408.7C294.3 409.3 297.0 409.8 299.8 410.2C302.5 410.5 305.3 410.8 308.0 410.8C310.8 410.8 313.5 410.2 316.3 410.2C319.0 410.2 321.8 410.8 324.5 410.8C327.3 410.8 330.0 410.3 332.8 410.2C335.5 410.0 338.3 409.9 341.0 409.8C343.7 409.6 346.7 409.4 349.2 409.3C351.7 409.2 354.9 409.2 356.0 409.1"/>
<path class="cv" stroke="#19c8c8" d="M65.6 400.1C69.8 400.0 83.3 399.8 90.9 399.5C98.6 399.1 106.4 398.3 111.5 397.8C116.7 397.3 118.7 397.0 121.8 396.4C124.9 395.7 127.5 394.7 130.1 393.7C132.6 392.7 135.4 391.1 137.3 390.2C139.2 389.3 140.4 388.5 141.4 388.1C142.4 387.7 142.8 387.2 143.5 387.7C144.1 388.2 144.8 389.3 145.5 391.2C146.2 393.2 146.8 396.9 147.6 399.5C148.4 402.0 149.2 404.9 150.3 406.7C151.3 408.5 152.5 409.8 153.8 410.2C155.0 410.5 156.3 409.5 157.9 408.7C159.4 408.0 161.1 406.4 163.0 405.6C164.9 404.8 167.2 404.8 169.2 404.0C171.3 403.1 173.3 401.5 175.4 400.5C177.5 399.5 179.9 398.3 181.6 397.8C183.3 397.3 184.3 397.1 185.7 397.4C187.1 397.7 188.1 398.8 189.8 399.5C191.5 400.1 193.9 401.1 196.0 401.1C198.1 401.1 200.7 399.8 202.2 399.5C203.7 399.1 203.2 399.4 205.0 399.0C206.8 398.7 210.8 398.0 213.2 397.4C215.6 396.8 217.4 395.8 219.4 395.3C221.5 394.8 223.5 394.2 225.6 394.3C227.7 394.4 229.7 395.0 231.8 395.7C233.8 396.5 235.6 398.4 238.0 399.0C240.4 399.7 243.5 400.0 246.2 399.9C249.0 399.8 252.2 398.8 254.5 398.4C256.7 398.1 257.9 397.6 259.6 397.8C261.3 398.0 262.5 399.0 264.8 399.5C267.0 399.9 270.3 400.4 273.0 400.5C275.7 400.6 278.5 399.9 281.2 399.9C284.0 399.9 286.7 400.0 289.5 400.5C292.2 400.9 295.0 402.1 297.7 402.5C300.5 403.0 303.2 403.1 306.0 403.2C308.7 403.3 311.5 403.0 314.2 403.2C317.0 403.3 319.7 404.0 322.5 404.0C325.2 404.0 327.9 403.3 330.7 403.2C333.4 403.0 335.8 403.3 338.9 403.2C342.0 403.1 346.4 402.6 349.2 402.5C352.1 402.4 354.9 402.5 356.0 402.5"/>
</g>
<rect x="65.3" y="253.0" width="289.5" height="25.9" fill="url(#gc)"/>
<path class="fr" d="M65.3 279.9V253.0H356.0V279.9"/>
<path d="M133.2 252.6V440.7M197.6 252.6V440.7" stroke="#1f77b4" stroke-width="1.3" stroke-dasharray="7.1 6.1" fill="none"/>
<text class="sp" transform="translate(78.0 272.5) scale(1.000 1)">Infrared</text>
<text class="sp" transform="translate(151.0 272.5) scale(1.000 1)">Visible</text>
<text class="sp" transform="translate(247.0 272.5) scale(1.000 1)">Ultraviolet</text>
<text class="tk" style="font-size:15.3px" text-anchor="middle" transform="translate(65.3 457.9) scale(0.980 1)">0</text>
<text class="tk" style="font-size:15.3px" text-anchor="middle" transform="translate(106.8 457.9) scale(0.980 1)">1</text>
<text class="tk" style="font-size:15.3px" text-anchor="middle" transform="translate(148.4 457.9) scale(0.980 1)">2</text>
<text class="tk" style="font-size:15.3px" text-anchor="middle" transform="translate(189.9 457.9) scale(0.980 1)">3</text>
<text class="tk" style="font-size:15.3px" text-anchor="middle" transform="translate(231.4 457.9) scale(0.980 1)">4</text>
<text class="tk" style="font-size:15.3px" text-anchor="middle" transform="translate(272.9 457.9) scale(0.980 1)">5</text>
<text class="tk" style="font-size:15.3px" text-anchor="middle" transform="translate(314.5 457.9) scale(0.980 1)">6</text>
<text class="tk" style="font-size:15.3px" text-anchor="middle" transform="translate(356.0 457.9) scale(0.980 1)">7</text>
<text class="tk" style="font-size:15.3px" text-anchor="end" transform="translate(60.4 445.4) scale(0.980 1)">0</text>
<text class="tk" style="font-size:15.3px" text-anchor="end" transform="translate(60.4 414.1) scale(0.980 1)">2</text>
<text class="tk" style="font-size:15.3px" text-anchor="end" transform="translate(60.4 382.8) scale(0.980 1)">4</text>
<text class="tk" style="font-size:15.3px" text-anchor="end" transform="translate(60.4 351.6) scale(0.980 1)">6</text>
<text class="tk" style="font-size:15.3px" text-anchor="end" transform="translate(60.4 320.3) scale(0.980 1)">8</text>
<text class="tk" style="font-size:15.3px" text-anchor="end" transform="translate(60.4 289.0) scale(0.980 1)">10</text>
<text class="tk" style="font-size:15.3px" text-anchor="end" transform="translate(60.4 257.7) scale(0.980 1)">12</text>
<text class="lb" style="font-size:17.3px" transform="translate(21.3 259.2) scale(0.930 1)">(c)</text>
<text class="ax" style="font-size:14.5px" text-anchor="middle" x="211.6" y="475.8">Energy(eV)</text>
<text class="ax" style="font-size:15.3px" text-anchor="middle" transform="translate(39.5 346.5) rotate(-90)">Real part</text>
</g>
<g id="plot-d">
<path class="t" d="M421.4 444.5v-4.2M442.0 444.5v-2.2M462.7 444.5v-4.2M483.3 444.5v-2.2M504.0 444.5v-4.2M524.6 444.5v-2.2M545.3 444.5v-4.2M565.9 444.5v-2.2M586.5 444.5v-4.2M607.2 444.5v-2.2M627.8 444.5v-4.2M648.5 444.5v-2.2M669.1 444.5v-4.2M689.8 444.5v-2.2M710.4 444.5v-4.2M421.4 444.5h4.2M421.4 420.5h2.2M421.4 396.5h4.2M421.4 372.5h2.2M421.4 348.5h4.2M421.4 324.5h2.2M421.4 300.5h4.2M421.4 276.5h2.2M421.4 252.5h4.2" fill="none"/>
<rect class="fr" x="421.4" y="252.5" width="289.0" height="192.0"/>
<g clip-path="url(#cd)">
<path class="cv" stroke="#4d4d4d" d="M421.6 444.4C429.1 444.3 456.6 444.2 466.5 443.8C476.4 443.3 477.2 442.4 480.9 441.7C484.7 441.0 486.4 440.2 489.2 439.6C491.9 439.1 495.0 438.4 497.4 438.2C499.8 438.0 501.2 438.3 503.6 438.6C506.0 438.9 509.1 439.7 511.8 440.3C514.6 440.8 517.7 441.5 520.1 441.7C522.5 441.9 523.9 442.0 526.3 441.7C528.7 441.4 531.8 440.5 534.5 439.6C537.3 438.8 540.0 437.5 542.8 436.5C545.5 435.6 548.3 434.8 551.0 434.1C553.7 433.3 557.7 432.5 559.2 432.0C560.7 431.6 558.8 431.7 560.0 431.4C561.2 431.1 564.1 430.9 566.2 430.4C568.2 429.8 570.0 429.0 572.4 428.3C574.8 427.6 577.5 426.8 580.6 426.2C583.7 425.7 587.8 425.5 590.9 425.2C594.0 424.9 596.7 425.3 599.2 424.6C601.6 423.9 603.4 422.2 605.3 421.1C607.2 420.0 608.8 418.4 610.5 418.0C612.2 417.6 613.7 418.1 615.6 418.6C617.5 419.1 619.8 420.7 621.8 421.1C623.9 421.5 625.9 421.6 628.0 421.1C630.1 420.6 632.3 419.4 634.2 418.0C636.1 416.6 637.6 414.0 639.3 412.8C641.0 411.7 642.8 411.0 644.5 411.2C646.2 411.4 648.1 413.3 649.6 413.9C651.2 414.5 652.2 415.3 653.8 414.9C655.3 414.6 657.2 412.7 658.9 411.8C660.6 411.0 662.3 409.8 664.1 409.8C665.8 409.7 667.3 410.6 669.2 411.4C671.1 412.2 673.3 413.8 675.4 414.3C677.5 414.8 679.5 414.2 681.6 414.3C683.6 414.4 685.7 414.8 687.8 414.9C689.8 415.0 691.9 415.3 693.9 414.9C696.0 414.5 698.2 412.7 700.1 412.4C702.0 412.2 703.6 413.1 705.3 413.5C706.9 413.9 709.2 414.7 710.0 414.9"/>
<path class="cv" stroke="#3db070" d="M421.6 444.4C434.2 444.3 483.1 444.0 497.4 443.8C511.8 443.5 504.6 443.2 507.7 442.7C510.8 442.2 513.7 441.7 516.0 440.7C518.2 439.6 519.7 438.4 521.1 436.5C522.5 434.7 523.2 431.6 524.2 429.3C525.2 427.1 526.4 424.5 527.3 423.2C528.2 421.8 528.6 421.3 529.4 421.5C530.2 421.7 531.2 423.3 532.0 424.2C532.9 425.0 533.7 427.2 534.5 426.7C535.3 426.1 536.1 423.0 537.0 421.1C537.8 419.1 538.8 416.5 539.7 414.9C540.6 413.4 541.5 411.6 542.3 411.8C543.2 412.0 543.9 414.4 544.8 415.9C545.7 417.5 546.9 420.1 547.9 421.1C548.9 422.1 549.8 421.8 551.0 422.1C552.2 422.5 553.7 422.6 555.1 423.2C556.5 423.7 558.4 425.3 559.2 425.6C560.1 426.0 559.0 424.8 560.0 425.2C561.0 425.6 563.4 427.3 565.2 427.9C566.9 428.5 568.4 429.2 570.3 428.7C572.2 428.3 574.4 426.0 576.5 425.2C578.5 424.4 580.6 424.0 582.7 423.8C584.7 423.5 586.8 424.0 588.8 423.8C590.9 423.5 593.0 422.2 595.0 422.1C597.1 422.0 598.8 422.6 601.2 423.2C603.6 423.7 606.7 425.1 609.5 425.2C612.2 425.3 614.9 424.5 617.7 423.8C620.4 423.1 623.2 421.8 625.9 421.1C628.7 420.4 631.4 420.0 634.2 419.6C636.9 419.3 639.7 419.2 642.4 419.0C645.2 418.8 647.9 418.3 650.7 418.4C653.4 418.5 656.2 419.3 658.9 419.6C661.7 420.0 664.4 420.5 667.2 420.5C669.9 420.5 672.6 419.9 675.4 419.6C678.1 419.4 680.5 419.4 683.6 419.2C686.7 419.0 690.5 418.8 693.9 418.4C697.4 418.0 701.6 417.4 704.2 417.0C706.9 416.6 709.0 416.1 710.0 415.9"/>
<path class="cv" stroke="#b56be3" d="M421.7 444.0C421.8 440.8 422.2 431.5 422.5 425.0C422.8 418.5 422.9 413.0 423.2 405.0C423.4 397.0 423.8 386.3 424.0 377.0C424.2 367.7 424.5 356.8 424.7 349.0C424.9 341.2 425.2 336.2 425.4 330.0C425.6 323.8 425.9 317.0 426.1 312.0C426.4 307.0 426.6 303.4 426.9 300.0C427.1 296.6 427.3 294.0 427.6 291.7C427.9 289.4 428.4 286.5 428.7 286.0C429.0 285.5 429.2 287.2 429.5 288.5C429.8 289.8 429.9 291.1 430.2 293.5C430.4 295.9 430.8 299.3 431.0 303.0C431.2 306.7 431.4 311.0 431.7 315.8C432.0 320.6 432.3 326.5 432.6 332.0C432.9 337.5 433.3 343.8 433.6 349.0C433.9 354.2 434.2 358.7 434.5 363.0C434.8 367.3 435.1 371.5 435.4 375.0C435.7 378.5 436.1 381.5 436.4 384.0C436.7 386.5 436.7 387.9 437.3 390.0C437.9 392.1 439.0 395.9 439.9 396.7C440.8 397.4 442.0 394.4 442.8 394.5C443.6 394.6 444.1 395.1 444.7 397.5C445.3 399.9 445.9 404.3 446.6 408.6C447.3 412.9 448.2 419.6 449.1 423.5C450.0 427.4 450.7 430.2 452.1 432.0C453.5 433.8 455.7 434.0 457.2 434.5C458.8 435.0 460.0 434.8 461.4 434.9C462.7 435.0 464.1 434.4 465.5 434.9C466.9 435.3 468.1 436.7 469.6 437.6C471.2 438.5 472.9 439.7 474.8 440.3C476.6 440.8 478.9 441.0 480.9 441.1C483.0 441.1 485.2 441.1 487.1 440.7C489.0 440.3 490.6 439.8 492.3 438.6C494.0 437.4 495.7 435.3 497.4 433.5C499.1 431.6 501.2 428.7 502.6 427.3C503.9 425.8 504.6 424.2 505.7 424.6C506.7 424.9 507.7 427.7 508.8 429.3C509.8 431.0 510.6 433.1 511.8 434.5C513.0 435.9 514.6 436.9 516.0 437.6C517.3 438.3 518.7 438.4 520.1 438.6C521.5 438.8 522.5 438.8 524.2 439.0C525.9 439.2 528.3 439.9 530.4 439.6C532.5 439.4 534.5 438.3 536.6 437.6C538.6 436.9 540.7 436.0 542.8 435.5C544.8 435.0 546.9 434.7 548.9 434.5C551.0 434.2 553.4 434.2 555.1 434.1C556.8 433.9 558.4 433.7 559.2 433.5C560.1 433.2 558.8 432.9 560.0 432.4C561.2 431.9 564.3 431.4 566.2 430.4C568.1 429.3 570.0 427.8 571.3 426.2C572.7 424.7 573.4 422.3 574.4 421.1C575.5 419.9 576.5 418.9 577.5 419.0C578.5 419.2 579.6 420.9 580.6 422.1C581.6 423.3 582.3 425.4 583.7 426.2C585.1 427.1 587.1 427.4 588.8 427.3C590.6 427.1 592.5 426.1 594.0 425.2C595.5 424.4 596.7 422.5 598.1 422.1C599.5 421.8 600.7 422.8 602.2 423.2C603.8 423.5 605.5 424.4 607.4 424.2C609.3 424.0 611.2 422.6 613.6 422.1C616.0 421.6 619.1 421.4 621.8 421.1C624.6 420.7 627.3 420.6 630.1 420.1C632.8 419.5 636.1 418.6 638.3 418.0C640.5 417.4 641.7 416.2 643.5 416.4C645.2 416.5 646.7 418.6 648.6 419.0C650.5 419.5 652.4 419.2 654.8 419.0C657.2 418.9 659.9 418.1 663.0 418.0C666.1 417.9 669.9 418.5 673.3 418.6C676.8 418.7 680.2 418.5 683.6 418.4C687.1 418.3 690.5 418.3 693.9 418.0C697.4 417.7 701.6 416.7 704.2 416.4C706.9 416.0 709.0 416.0 710.0 415.9"/>
<path class="cv" stroke="#c8900c" d="M421.6 444.4C423.2 444.3 428.8 444.1 431.5 443.8C434.2 443.4 435.9 443.0 437.7 442.3C439.4 441.6 440.6 440.3 441.8 439.6C443.0 438.9 443.8 438.1 444.9 438.2C445.9 438.3 446.6 439.7 448.0 440.3C449.3 440.8 451.1 441.5 453.1 441.7C455.2 441.9 458.3 442.0 460.3 441.7C462.4 441.4 463.9 440.8 465.5 439.6C467.0 438.4 468.4 436.4 469.6 434.5C470.8 432.5 471.8 429.3 472.7 427.9C473.6 426.4 474.1 425.8 474.8 425.8C475.4 425.9 476.0 426.9 476.8 428.3C477.7 429.7 478.7 432.7 479.9 434.5C481.1 436.3 482.5 437.9 484.0 439.0C485.6 440.1 487.3 440.6 489.2 441.1C491.1 441.5 493.0 441.7 495.4 441.7C497.8 441.7 500.9 441.2 503.6 441.1C506.4 440.9 509.1 440.9 511.8 440.7C514.6 440.4 517.9 440.2 520.1 439.6C522.3 439.1 523.7 438.6 525.2 437.6C526.8 436.5 528.0 435.3 529.4 433.5C530.7 431.6 532.3 428.3 533.5 426.2C534.7 424.2 535.6 422.3 536.6 421.1C537.5 419.9 538.3 419.0 539.3 419.0C540.2 419.0 541.2 420.2 542.3 421.1C543.4 421.9 544.7 423.8 545.8 424.2C546.9 424.5 547.8 423.7 548.9 423.2C550.1 422.6 551.4 420.8 552.6 420.7C553.8 420.6 555.1 421.8 556.1 422.5C557.2 423.3 558.6 424.6 559.2 425.2C559.9 425.8 559.0 425.7 560.0 426.2C561.0 426.8 563.4 427.8 565.2 428.3C566.9 428.8 568.4 429.5 570.3 429.3C572.2 429.2 574.4 427.4 576.5 427.3C578.5 427.1 580.6 428.3 582.7 428.3C584.7 428.3 586.8 427.8 588.8 427.3C590.9 426.8 593.0 425.6 595.0 425.2C597.1 424.9 598.8 424.9 601.2 425.2C603.6 425.6 607.0 427.1 609.5 427.3C611.9 427.4 613.6 426.9 615.6 426.2C617.7 425.6 619.4 424.0 621.8 423.2C624.2 422.3 627.3 421.6 630.1 421.1C632.8 420.6 635.6 420.5 638.3 420.1C641.0 419.6 643.8 418.8 646.5 418.4C649.3 418.1 652.0 417.9 654.8 418.0C657.5 418.1 660.3 418.7 663.0 419.0C665.8 419.4 668.5 419.9 671.3 420.1C674.0 420.2 676.8 420.1 679.5 420.1C682.3 420.0 685.0 419.8 687.8 419.6C690.5 419.5 693.3 419.5 696.0 419.0C698.7 418.6 701.9 417.6 704.2 417.0C706.6 416.4 709.0 415.8 710.0 415.5"/>
<path class="cv" stroke="#19c8c8" d="M421.6 444.4C429.1 444.3 456.6 444.4 466.5 444.2C476.4 444.0 477.2 443.7 480.9 443.1C484.7 442.6 486.9 442.3 489.2 441.1C491.4 439.8 492.8 438.0 494.3 435.5C495.9 433.0 497.3 429.5 498.5 426.2C499.7 423.0 500.6 418.6 501.5 415.9C502.5 413.3 503.4 409.8 504.2 410.2C505.1 410.5 505.8 414.8 506.7 418.0C507.6 421.2 508.8 426.6 509.8 429.3C510.8 432.1 511.7 433.3 512.9 434.5C514.1 435.7 515.5 436.0 517.0 436.5C518.5 437.1 520.3 437.1 522.2 437.6C524.0 438.1 526.3 439.4 528.3 439.6C530.4 439.9 532.5 439.5 534.5 439.0C536.6 438.5 538.6 437.4 540.7 436.5C542.8 435.7 545.2 434.6 546.9 434.1C548.6 433.6 549.6 433.3 551.0 433.5C552.4 433.6 553.7 434.6 555.1 434.9C556.5 435.2 558.4 435.4 559.2 435.5C560.1 435.6 558.8 435.7 560.0 435.5C561.2 435.3 564.1 434.7 566.2 434.5C568.2 434.3 570.3 435.0 572.4 434.5C574.4 434.0 576.5 432.6 578.5 431.4C580.6 430.2 582.8 428.3 584.7 427.3C586.6 426.2 588.3 425.7 589.9 425.2C591.4 424.7 592.8 424.0 594.0 424.2C595.2 424.4 595.9 425.8 597.1 426.2C598.3 426.7 599.5 426.7 601.2 426.7C602.9 426.7 605.3 426.5 607.4 426.2C609.5 426.0 611.5 425.8 613.6 425.2C615.6 424.6 617.7 423.0 619.8 422.5C621.8 422.0 623.9 422.0 625.9 422.1C628.0 422.2 630.1 423.2 632.1 423.2C634.2 423.2 636.2 422.6 638.3 422.1C640.4 421.7 642.4 421.0 644.5 420.5C646.5 420.0 648.6 419.2 650.7 419.0C652.7 418.9 654.8 419.4 656.8 419.6C658.9 419.9 660.6 420.7 663.0 420.7C665.4 420.7 668.5 419.8 671.3 419.6C674.0 419.5 676.8 420.2 679.5 420.1C682.3 420.0 685.0 419.3 687.8 419.0C690.5 418.8 693.3 418.6 696.0 418.4C698.7 418.2 701.9 418.2 704.2 418.0C706.6 417.8 709.0 417.1 710.0 417.0"/>
</g>
<path d="M489.3 444.5V252.5M553.2 444.5V252.5" stroke="#1f9393" stroke-width="1.3" stroke-dasharray="8.2 6.75" fill="none"/>
<rect x="421.4" y="252.5" width="287.6" height="30.0" fill="url(#gd)"/>
<g clip-path="url(#kd)" opacity="0.8"><path d="M489.3 444.5V252.5M553.2 444.5V252.5" stroke="#1f9393" stroke-width="1.3" stroke-dasharray="8.2 6.75" fill="none"/></g>
<path class="fr" style="stroke:#2a2a2a;stroke-width:1.5" d="M421.4 283.5V252.5H710.4V283.5"/>
<text class="sp" transform="translate(430.8 273.1) scale(0.905 1)">Infrared</text>
<text class="sp" transform="translate(510.2 273.1) scale(0.905 1)">Visible</text>
<text class="sp" transform="translate(568.0 273.1) scale(0.905 1)">Ultraviolet</text>
<text class="tk" style="font-size:15.3px" text-anchor="middle" transform="translate(421.4 462.1) scale(1.000 1)">0</text>
<text class="tk" style="font-size:15.3px" text-anchor="middle" transform="translate(462.7 462.1) scale(1.000 1)">1</text>
<text class="tk" style="font-size:15.3px" text-anchor="middle" transform="translate(504.0 462.1) scale(1.000 1)">2</text>
<text class="tk" style="font-size:15.3px" text-anchor="middle" transform="translate(545.3 462.1) scale(1.000 1)">3</text>
<text class="tk" style="font-size:15.3px" text-anchor="middle" transform="translate(586.5 462.1) scale(1.000 1)">4</text>
<text class="tk" style="font-size:15.3px" text-anchor="middle" transform="translate(627.8 462.1) scale(1.000 1)">5</text>
<text class="tk" style="font-size:15.3px" text-anchor="middle" transform="translate(669.1 462.1) scale(1.000 1)">6</text>
<text class="tk" style="font-size:15.3px" text-anchor="middle" transform="translate(710.4 462.1) scale(1.000 1)">7</text>
<text class="tk" style="font-size:15.3px" text-anchor="end" transform="translate(417.5 449.1) scale(1.000 1)">0</text>
<text class="tk" style="font-size:15.3px" text-anchor="end" transform="translate(417.5 401.1) scale(1.000 1)">2</text>
<text class="tk" style="font-size:15.3px" text-anchor="end" transform="translate(417.5 353.1) scale(1.000 1)">4</text>
<text class="tk" style="font-size:15.3px" text-anchor="end" transform="translate(417.5 305.1) scale(1.000 1)">6</text>
<text class="tk" style="font-size:15.3px" text-anchor="end" transform="translate(417.5 257.1) scale(1.000 1)">8</text>
<text class="lb" style="font-size:18.2px" transform="translate(376.0 258.0) scale(0.920 1)">(d)</text>
<text class="ax" style="font-size:13.7px" text-anchor="middle" x="562.9" y="475.8">Energy(eV)</text>
<text class="ax" style="font-size:15.3px" text-anchor="middle" transform="translate(392.7 348.5) rotate(-90)">Imaginary part</text>
</g>
<g id="legend">
<path class="cv" stroke="#4d4d4d" d="M67.3 53.9H98.9"/>
<text class="lg" x="107" y="58.7">I</text>
<path class="cv" stroke="#3db070" d="M67.3 72.2H98.9"/>
<text class="lg" x="107" y="77.0">IV</text>
<path class="cv" stroke="#b56be3" d="M67.3 90.4H98.9"/>
<text class="lg" x="107" y="95.2">V</text>
<path class="cv" stroke="#c8900c" d="M67.3 108.6H98.9"/>
<text class="lg" x="107" y="113.4">VI</text>
<path class="cv" stroke="#19c8c8" d="M67.3 126.8H98.9"/>
<text class="lg" x="107" y="131.6">VII</text>
</g>
<text class="an" x="247" y="193.5">directions [100]</text>
<text class="an" x="611" y="195.5">direction[010]</text>
</svg></body></html>
